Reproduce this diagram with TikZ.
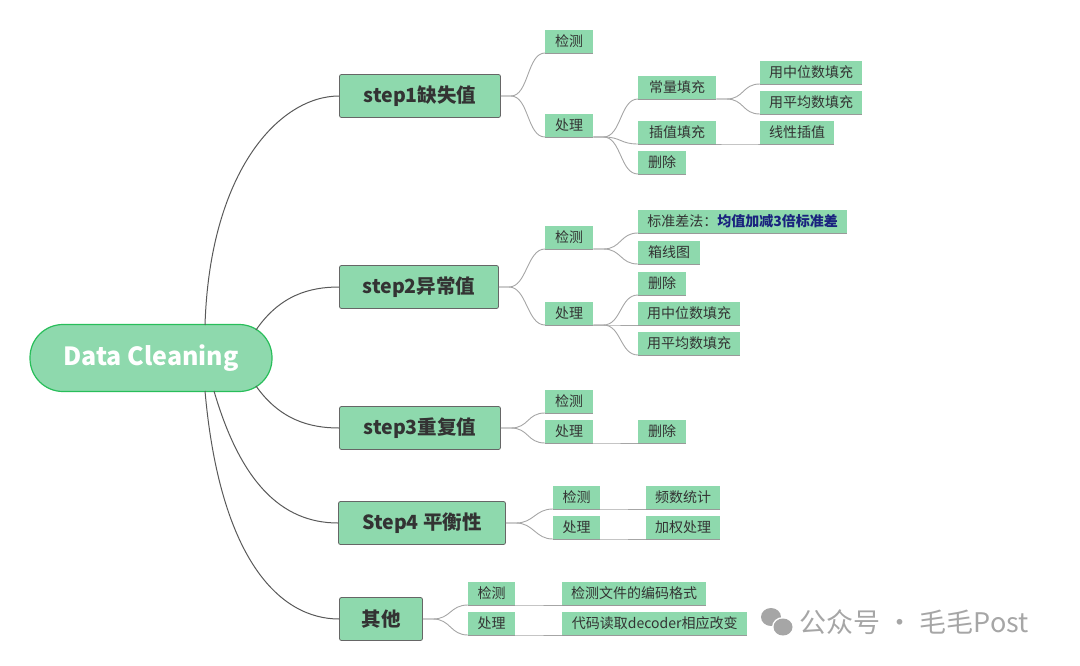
\documentclass[tikz,border=0pt]{standalone}
\usepackage{fontspec}
\setmainfont{Noto Sans CJK SC}
\begin{document}
\begin{tikzpicture}[x=1pt,y=-1pt,
  uline/.style={draw=black!40,line width=1pt},
  leaf/.style={fill=fillg,anchor=south west,minimum height=23pt,inner sep=0pt,align=center,
    font=\fontsize{14}{16}\selectfont,text=black!80,
    append after command={(\tikzlastnode.south west) edge[uline] (\tikzlastnode.south east)}},
  stp/.style={fill=fillg,draw=black!60,line width=0.8pt,rounded corners=2pt,minimum height=43pt,inner sep=0pt,
    font=\fontsize{19.5}{21}\selectfont\bfseries,text=black!80},
  conn/.style={draw=black!35,line width=0.9pt},
  rconn/.style={draw=black!65,line width=1pt}]
\definecolor{fillg}{HTML}{8ED9AD}
\useasboundingbox (0,0) rectangle (1080,665);
% root connectors
\coordinate (r1) at (205,325);
\coordinate (r2) at (256,330);
\coordinate (r3) at (256,386);
\coordinate (r4) at (214,391);
\coordinate (r5) at (205,391);
% root
\node[fill=fillg,draw={rgb,255:red,40;green,190;blue,90},line width=1.2pt,rounded corners=33pt,minimum width=242pt,minimum height=67pt,
  font=\fontsize{25}{27}\selectfont\bfseries,text=white] (root) at (151,358) {Data Cleaning};
% steps
\node[stp,minimum width=161pt] (s1) at (420,96) {step1缺失值};
\node[stp,minimum width=159pt] (s2) at (419,287) {step2异常值};
\node[stp,minimum width=161pt] (s3) at (420,428) {step3重复值};
\node[stp,minimum width=167pt] (s4) at (422,523) {Step4 平衡性};
\node[stp,minimum width=83pt] (s5) at (381,619) {其他};
\draw[rconn] (r1) .. controls (210,170) and (280,96) .. (s1.west);
\draw[rconn] (r2) .. controls (280,295) and (310,287) .. (s2.west);
\draw[rconn] (r3) .. controls (280,420) and (310,428) .. (s3.west);
\draw[rconn] (r4) .. controls (240,480) and (280,523) .. (s4.west);
\draw[rconn] (r5) .. controls (220,560) and (280,619) .. (s5.west);
% step1
\node[leaf,minimum width=48pt] (a1) at (545,53) {检测};
\node[leaf,minimum width=48pt] (a2) at (545,137) {处理};
\node[leaf,minimum width=78pt] (a21) at (638,99) {常量填充};
\node[leaf,minimum width=102pt] (a211) at (760,84) {用中位数填充};
\node[leaf,minimum width=102pt] (a212) at (760,114) {用平均数填充};
\node[leaf,minimum width=78pt] (a22) at (638,144) {插值填充};
\node[leaf,minimum width=74pt] (a221) at (760,144) {线性插值};
\node[leaf,minimum width=48pt] (a23) at (638,174) {删除};
% step2
\node[leaf,minimum width=48pt] (b1) at (545,249) {检测};
\node[leaf,minimum width=48pt] (b2) at (545,325) {处理};
\node[leaf,minimum width=209pt] (b11) at (638,233) {标准差法：{\bfseries\color[HTML]{1A237E}均值加减3倍标准差}};
\node[leaf,minimum width=62pt] (b12) at (638,264) {箱线图};
\node[leaf,minimum width=48pt] (b21) at (638,295) {删除};
\node[leaf,minimum width=102pt] (b22) at (638,325) {用中位数填充};
\node[leaf,minimum width=102pt] (b23) at (638,355) {用平均数填充};
% step3
\node[leaf,minimum width=48pt] (c1) at (545,413) {检测};
\node[leaf,minimum width=48pt] (c2) at (545,443) {处理};
\node[leaf,minimum width=48pt] (c21) at (638,443) {删除};
% step4
\node[leaf,minimum width=47pt] (d1) at (553,509) {检测};
\node[leaf,minimum width=47pt] (d2) at (553,539) {处理};
\node[leaf,minimum width=74pt] (d11) at (646,509) {频数统计};
\node[leaf,minimum width=74pt] (d21) at (646,539) {加权处理};
% other
\node[leaf,minimum width=47pt] (e1) at (468,605) {检测};
\node[leaf,minimum width=47pt] (e2) at (468,635) {处理};
\node[leaf,minimum width=144pt] (e11) at (562,605) {检测文件的编码格式};
\node[leaf,minimum width=185pt] (e21) at (562,635) {代码读取decoder相应改变};
% connectors
\foreach \p/\c in {s1/a1,s1/a2,s2/b1,s2/b2,s3/c1,s3/c2,s4/d1,s4/d2,s5/e1,s5/e2}{
  \draw[conn] (\p.east) -- ++(10,0) .. controls +(18,0) and +(-18,0) .. (\c.south west);}
\foreach \p/\c in {a2/a21,a2/a22,a2/a23,a21/a211,a21/a212,a22/a221,b1/b11,b1/b12,b2/b21,b2/b22,b2/b23,c2/c21,d1/d11,d2/d21,e1/e11,e2/e21}{
  \draw[conn] (\p.south east) -- ++(10,0) .. controls +(18,0) and +(-18,0) .. (\c.south west);}
% watermark
\node[text=black!35,font=\fontsize{27}{29}\selectfont,anchor=west] (wm) at (796,622) {公众号 · 毛毛Post};
\fill[black!35] (771,617) ellipse (10pt and 9pt);
\fill[white] (783,627) ellipse (11pt and 10pt);
\fill[black!35] (783,627) ellipse (9.5pt and 8.5pt);
\end{tikzpicture}
\end{document}
